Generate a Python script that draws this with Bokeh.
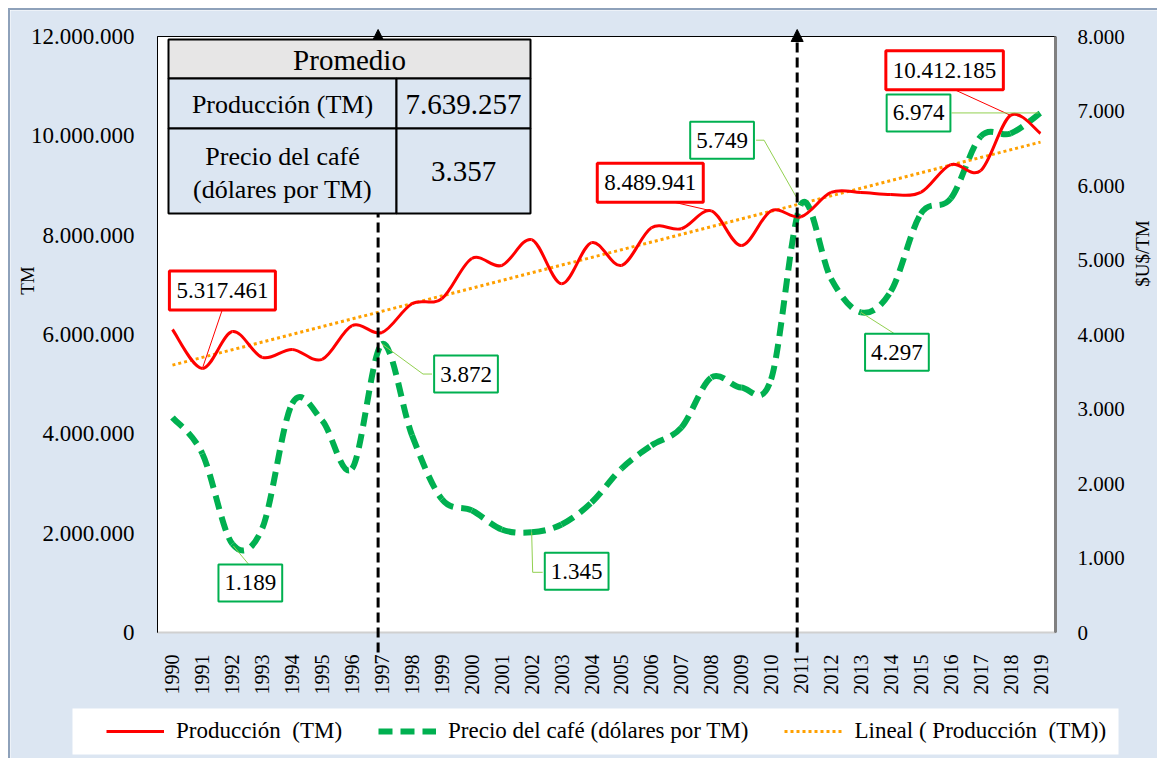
import numpy as np
from math import pi
from bokeh.plotting import figure
from bokeh.models import (Range1d, LinearAxis, FixedTicker, Label, Arrow, NormalHead,
                          BoxAnnotation, Legend, LegendItem, ColumnDataSource)
from bokeh.embed import file_html
from bokeh.resources import INLINE

# ---------------- data ----------------
years = list(range(1990, 2020))
produccion = [6100000, 5317461, 6060000, 5540000, 5700000, 5500000, 6180000, 6040000, 6620000, 6720000,
              7530000, 7390000, 7910000, 7020000, 7850000, 7390000, 8150000, 8130000, 8489941, 7790000,
              8490000, 8370000, 8860000, 8860000, 8820000, 8860000, 9420000, 9300000, 10412185, 10050000]
precio = [2886, 2400, 1189, 1400, 3074, 2846, 2201, 3872, 2650, 1790,
          1640, 1383, 1345, 1450, 1745, 2200, 2510, 2750, 3423, 3289,
          3400, 5749, 4750, 4297, 4580, 5620, 5825, 6658, 6698, 6974]
series_names = ["Producción  (TM)", "Precio del café (dólares por TM)", "Lineal ( Producción  (TM))"]
left_ticks = [0, 2000000, 4000000, 6000000, 8000000, 10000000, 12000000]
left_tick_labels = ["0", "2.000.000", "4.000.000", "6.000.000", "8.000.000", "10.000.000", "12.000.000"]
right_ticks = [0, 1000, 2000, 3000, 4000, 5000, 6000, 7000, 8000]
right_tick_labels = ["0", "1.000", "2.000", "3.000", "4.000", "5.000", "6.000", "7.000", "8.000"]
year_labels = [str(y) for y in years]
left_title = "TM"
right_title = "$U$/TM"
table_title = "Promedio"
table_row1 = "Producción (TM)"
table_row2 = ["Precio del café", "(dólares por TM)"]
table_values = ["7.639.257", "3.357"]
arrow_years = [1997, 2011]
prod_callout_years = [1991, 2008, 2018]
price_callout_years = [1992, 1997, 2002, 2011, 2013, 2019]

# ---------------- style / layout ----------------
FONT = "Liberation Serif"
RED = "#FF0000"
GREEN = "#00B050"
ORANGE = "#FFA000"
BG = "#DCE6F2"
X0, X1 = 1989.5, 2019.5
YL1, YR1 = 12000000, 8000
PL, PR = 157, 1055          # plot area left/right (page px)
PT, PB = 36, 632            # plot area top/bottom (page px)
ORG = 10                    # canvas origin on the page (margin + border)
W, H = 1149, 750


def px_x(px):
    return X0 + (px - PL) / (PR - PL) * (X1 - X0)


def px_yl(py):
    return (PB - py) / (PB - PT) * YL1


def px_yr(py):
    return (PB - py) / (PB - PT) * YR1


DXU = (X1 - X0) / (PR - PL)
DYL = YL1 / (PB - PT)
DYR = YR1 / (PB - PT)

# the frame covers the whole canvas; axes sit at fixed locations
p = figure(width=W, height=H, x_range=Range1d(px_x(ORG), px_x(ORG + W)),
           y_range=Range1d(px_yl(ORG + H), px_yl(ORG)),
           output_backend="svg", toolbar_location=None,
           min_border_left=0, min_border_top=0, min_border_right=0, min_border_bottom=0,
           background_fill_color=BG, border_fill_color=BG,
           styles={"margin-left": "8px", "margin-top": "8px",
                   "border-left": "2px solid #8EA1BA", "border-top": "2px solid #8EA1BA"})
p.extra_y_ranges = {"right": Range1d(px_yr(ORG + H), px_yr(ORG))}
p.xgrid.visible = False
p.ygrid.visible = False
p.outline_line_color = None

# white plot area
p.add_layout(BoxAnnotation(left=X0, right=X1, bottom=0, top=YL1, fill_color="white", fill_alpha=1,
                           line_color="black", line_width=1, line_alpha=1, level="underlay"))
p.segment(x0=[X0], y0=[0], x1=[X1], y1=[0], line_color="#D0D0D0", line_width=2)

# axes
xa = p.xaxis[0]
xa.fixed_location = px_yl(648)
xa.ticker = FixedTicker(ticks=years)
xa.major_label_overrides = {y: l for y, l in zip(years, year_labels)}
xa.major_label_orientation = pi / 2
xa.major_label_text_font = FONT
xa.major_label_text_font_size = "20px"
xa.major_label_text_color = "black"
xa.major_label_standoff = 0
xa.major_tick_line_color = None
xa.minor_tick_line_color = None
xa.axis_line_color = None

ya = p.yaxis[0]
ya.fixed_location = X0
ya.bounds = (0, YL1)
ya.ticker = FixedTicker(ticks=left_ticks)
ya.major_label_overrides = {t: l for t, l in zip(left_ticks, left_tick_labels)}
ya.major_label_text_font = FONT
ya.major_label_text_font_size = "23px"
ya.major_label_text_color = "black"
ya.major_label_standoff = 17
ya.major_tick_line_color = None
ya.minor_tick_line_color = None
ya.axis_line_color = "black"
ya.axis_line_width = 1

ra = LinearAxis(y_range_name="right", bounds=(0, YR1), fixed_location=X1)
ra.ticker = FixedTicker(ticks=right_ticks)
ra.major_label_overrides = {t: l for t, l in zip(right_ticks, right_tick_labels)}
ra.major_label_text_font = FONT
ra.major_label_text_font_size = "21px"
ra.major_label_text_color = "black"
ra.major_label_standoff = 16
ra.major_tick_line_color = None
ra.minor_tick_line_color = None
ra.axis_line_color = "#808080"
ra.axis_line_width = 3
p.add_layout(ra, "right")

# axis titles
p.add_layout(Label(x=px_x(27), y=px_yl(280), text=left_title, angle=pi / 2, text_align="center",
                   text_baseline="middle", text_font=FONT, text_font_size="19px", text_color="black"))
p.add_layout(Label(x=px_x(1142), y=px_yl(253), text=right_title, angle=pi / 2, text_align="center",
                   text_baseline="middle", text_font=FONT, text_font_size="19px", text_color="black"))


# ---------------- smoothed series (Bezier segments through the data) ----------------
def smooth_source(xs, ys):
    x = np.asarray(xs, float)
    y = np.asarray(ys, float)
    xp = np.concatenate([x[:1], x, x[-1:]])
    yp = np.concatenate([y[:1], y, y[-1:]])
    n = len(x)
    cx0 = x[:-1] + (xp[2:n + 1] - xp[0:n - 1]) / 6
    cy0 = y[:-1] + (yp[2:n + 1] - yp[0:n - 1]) / 6
    cx1 = x[1:] - (xp[3:n + 2] - xp[1:n]) / 6
    cy1 = y[1:] - (yp[3:n + 2] - yp[1:n]) / 6
    return ColumnDataSource(dict(x0=x[:-1], y0=y[:-1], x1=x[1:], y1=y[1:],
                                 cx0=cx0, cy0=cy0, cx1=cx1, cy1=cy1))


coef = np.polyfit(years, produccion, 1)
trend = np.polyval(coef, years)
r_trend = p.line(years, trend, line_color=ORANGE, line_width=3, line_dash="3 3")

r_price = p.bezier(x0="x0", y0="y0", x1="x1", y1="y1", cx0="cx0", cy0="cy0", cx1="cx1", cy1="cy1",
                   source=smooth_source(years, precio), line_color=GREEN, line_width=6,
                   line_dash="14 8", y_range_name="right")
r_prod = p.bezier(x0="x0", y0="y0", x1="x1", y1="y1", cx0="cx0", cy0="cy0", cx1="cx1", cy1="cy1",
                  source=smooth_source(years, produccion), line_color=RED, line_width=3)

# ---------------- arrows ----------------
for yr in arrow_years:
    p.add_layout(Arrow(end=NormalHead(size=12, fill_color="black", line_color="black"),
                       x_start=yr - 0.13, y_start=px_yl(652), x_end=yr - 0.13, y_end=px_yl(29),
                       line_color="black", line_width=3, line_dash="10 5"))

# ---------------- table ----------------
cells = [
    (168, 530, 39, 78, "#E7E6E6"),
    (168, 396, 78, 128, BG), (396, 530, 78, 128, BG),
    (168, 396, 128, 213, BG), (396, 530, 128, 213, BG),
]
for l, r, t, b, c in cells:
    p.add_layout(BoxAnnotation(left=px_x(l), right=px_x(r), top=px_yl(t), bottom=px_yl(b),
                               fill_color=c, fill_alpha=1, line_color="black", line_width=2,
                               line_alpha=1))


def tlabel(xpx, ypx, text, size):
    p.add_layout(Label(x=px_x(xpx), y=px_yl(ypx), text=text, text_align="center",
                       text_baseline="middle", text_font=FONT, text_font_size=size,
                       text_color="black"))


tlabel(349, 59, table_title, "29px")
tlabel(282, 104, table_row1, "26px")
tlabel(463, 104, table_values[0], "29px")
tlabel(282, 156, table_row2[0], "26px")
tlabel(282, 189, table_row2[1], "26px")
tlabel(463, 171, table_values[1], "29px")


# ---------------- callouts ----------------
def fmt(v):
    return f"{int(round(v)):,}".replace(",", ".")


# (box dx, box dy-up, leader path offsets) in px relative to the point
prod_layout = {
    1991: (20, 78, [(20, 59), (0, 0)]),
    2008: (-61, 28, [(-52, 12), (0, 0)]),
    2018: (-66, 45, [(-59, 27), (0, 0)]),
}
price_layout = {
    1992: (18, -39, [(16, -20), (1, -2)]),
    1997: (84, -30, [(50, -30), (41, -30), (0, 0)]),
    2002: (45, -39, [(11, -40), (1, -40), (0, 0)]),
    2011: (-79, 64, [(-45, 64), (-37, 64), (-3, 4)]),
    2013: (36, -40, [(33, -21), (0, 0)]),
    2019: (-122, 0, [(-89, 0), (-2, 0)]),
}

for yr in prod_callout_years:
    v = produccion[years.index(yr)]
    dx, dy, path = prod_layout[yr]
    p.line([yr + a * DXU for a, b in path], [v + b * DYL for a, b in path],
           line_color=RED, line_width=1)
    p.add_layout(Label(x=yr, y=v, x_offset=dx, y_offset=dy, text=fmt(v), text_align="center",
                       text_baseline="middle", text_font=FONT, text_font_size="23px",
                       text_color="black", background_fill_color="white",
                       border_line_color=RED, border_line_width=3,
                       padding=dict(left=7, right=7, top=12, bottom=12)))

for yr in price_callout_years:
    v = precio[years.index(yr)]
    dx, dy, path = price_layout[yr]
    p.line([yr + a * DXU for a, b in path], [v + b * DYR for a, b in path],
           line_color="#92D050", line_width=1, y_range_name="right")
    p.add_layout(Label(x=yr, y=v, x_offset=dx, y_offset=dy, text=fmt(v), text_align="center",
                       text_baseline="middle", text_font=FONT, text_font_size="23px",
                       text_color="black", background_fill_color="white",
                       border_line_color=GREEN, border_line_width=2,
                       padding=dict(left=6, right=6, top=11, bottom=11), y_range_name="right"))

# ---------------- legend ----------------
p.add_layout(BoxAnnotation(left=px_x(72), right=px_x(1118), top=px_yl(708), bottom=px_yl(754),
                           fill_color="white", fill_alpha=1, line_color=None))
legend = Legend(items=[LegendItem(label=series_names[0], renderers=[r_prod]),
                       LegendItem(label=series_names[1], renderers=[r_price]),
                       LegendItem(label=series_names[2], renderers=[r_trend])],
                location=(106 - ORG, (ORG + H) - 744), orientation="horizontal",
                label_text_font=FONT, label_text_font_size="23px", label_text_color="black",
                glyph_width=58, glyph_height=20, label_standoff=12, spacing=36, padding=10,
                margin=0, border_line_color=None, background_fill_alpha=0)
p.add_layout(legend)

open("out.html", "w").write(file_html(p, INLINE))
